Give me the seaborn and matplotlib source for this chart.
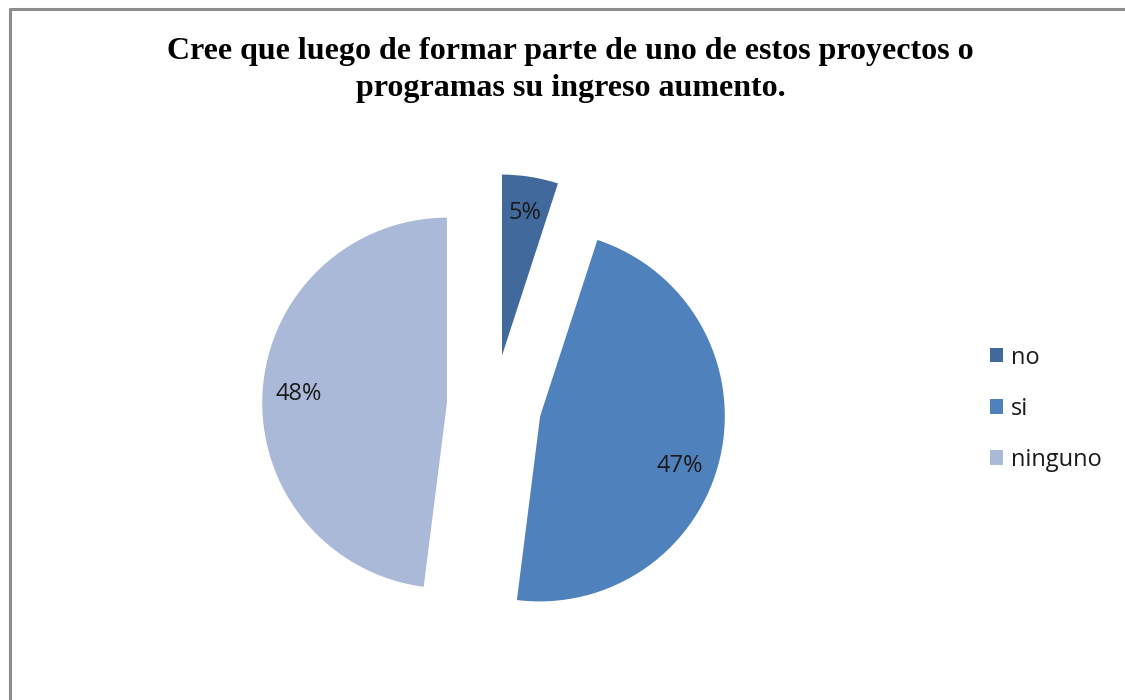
import numpy as np
import matplotlib.pyplot as plt
import seaborn as sns
from matplotlib.lines import Line2D
from matplotlib.patches import Patch

sns.set_style('white')

# datos
categorias = ['no', 'si', 'ninguno']
porcentajes = [5, 47, 48]
colores = ['#41699B', '#4F81BD', '#AAB9D7']
titulo = 'Cree que luego de formar parte de uno de estos proyectos o\nprogramas su ingreso aumento.'

fig = plt.figure(figsize=(11.25, 7), dpi=100)
fig.patch.set_facecolor('white')

# ejes cuadrados centrados en el pastel
ax = fig.add_axes([0.2076, 0.048, 0.4631, 0.7443])
wedges, texts, autotexts = ax.pie(
    porcentajes, colors=colores, startangle=90, counterclock=False,
    explode=[0.25, 0.25, 0.25], autopct='%1.0f%%', pctdistance=0.8,
    textprops={'fontsize': 17, 'color': '#1a1a1a', 'family': 'Open Sans'})
ax.set_xlim(-1.4, 1.4)
ax.set_ylim(-1.4, 1.4)
ax.set_aspect('equal')
ax.axis('off')

# la etiqueta de "si" queda algo mas abajo en el original
w = wedges[1]
ang = np.deg2rad((w.theta1 + w.theta2) / 2 - 7)
cx, cy = w.center
autotexts[1].set_position((cx + 0.8 * np.cos(ang), cy + 0.8 * np.sin(ang)))

fig.text(0.507, 0.9, titulo, ha='center', va='center', fontsize=23,
         fontweight='bold', family='Liberation Serif', linespacing=1.4, color='black')

handles = [Patch(facecolor=c, edgecolor='none') for c in colores]
fig.legend(handles, categorias, loc='center left', bbox_to_anchor=(0.8615, 0.416),
           frameon=False, labelspacing=1.15, handlelength=0.55,
           handleheight=0.55, handletextpad=0.3,
           prop={'family': 'Open Sans', 'size': 17})
for t in fig.legends[0].get_texts():
    t.set_color('#1a1a1a')

# borde gris arriba e izquierda
fig.add_artist(Line2D([10 / 1125, 10 / 1125], [0, 1 - 9 / 700], color='#8c8c8c', lw=2.2))
fig.add_artist(Line2D([10 / 1125, 1], [1 - 9 / 700, 1 - 9 / 700], color='#8c8c8c', lw=2.2))

fig.savefig('out.png', dpi=100)
